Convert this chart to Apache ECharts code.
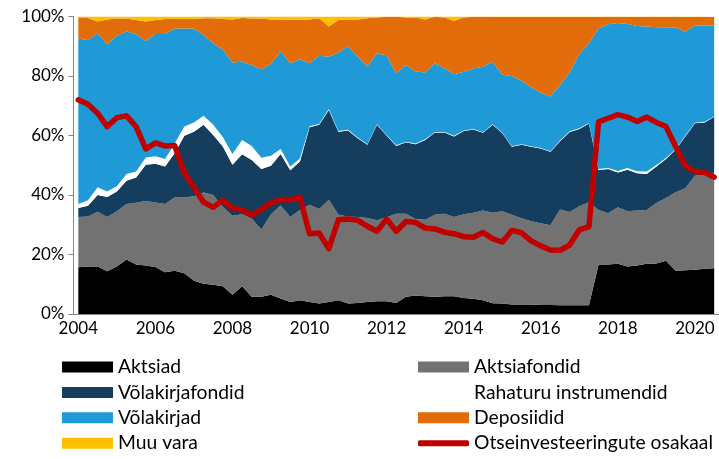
<!DOCTYPE html>
<html>
<head>
<meta charset="utf-8">
<script src="https://cdn.jsdelivr.net/npm/echarts@6/dist/echarts.min.js"></script>
<style>html,body{margin:0;padding:0;background:#fff}#c{width:719px;height:459px}</style>
</head>
<body>
<div id="c"></div>
<script>
// quarterly categories 2004Q1 .. 2020Q3
const categories = [];
for (let y = 2004; y <= 2020; y++) for (let q = 1; q <= 4; q++) if (categories.length < 67) categories.push(y + 'Q' + q);

const aktsiad = [15.7,16.0,16.0,14.4,16.0,18.3,16.6,16.3,15.8,14.0,
 14.5,13.7,11.2,10.2,9.8,9.3,6.5,9.3,5.8,5.8,
 6.5,5.2,4.0,4.6,4.0,3.5,4.0,4.6,3.5,3.7,
 4.0,4.3,4.3,3.7,5.8,6.2,6.0,5.8,6.0,6.0,
 5.4,5.1,4.6,3.6,3.5,3.2,3.2,3.2,3.0,3.0,
 2.9,2.9,2.9,2.9,16.6,16.6,16.9,16.0,16.3,16.9,
 17.0,17.9,14.5,14.7,14.9,15.2,15.4];
const aktsiafondid = [16.9,16.8,18.4,18.2,18.5,18.7,20.8,21.7,21.7,23.0,
 24.7,25.5,28.4,30.6,30.2,26.7,26.5,24.2,26.2,22.6,
 27.0,31.3,28.6,30.4,32.7,31.8,34.4,28.8,29.3,28.9,
 28.3,27.2,28.2,30.0,27.9,25.7,25.7,27.6,27.7,26.6,
 28.1,28.9,30.2,30.4,31.0,30.2,29.0,28.0,27.5,26.8,
 32.2,31.4,33.3,34.7,18.4,17.3,19.0,18.5,18.5,18.1,
 20.3,21.1,26.4,27.6,31.6,31.8,32.1];
const volakirjafondid = [3.0,3.6,5.6,6.7,6.7,7.8,8.5,12.2,13.0,12.6,
 14.8,20.7,21.7,22.8,20.2,20.3,17.2,20.2,19.8,20.3,
 16.3,17.3,15.7,16.3,26.1,28.3,30.2,27.9,28.9,26.5,
 24.6,32.1,27.5,22.8,24.0,25.2,26.8,27.6,27.3,27.1,
 28.0,28.0,26.1,29.6,26.3,22.8,24.7,25.0,25.1,24.7,
 23.0,26.9,26.0,26.4,13.4,14.8,11.7,14.0,12.5,12.1,
 12.3,13.1,14.3,17.4,17.6,17.4,18.7];
const rahaturu = [1.4,1.8,2.6,1.9,1.7,2.3,2.0,2.4,2.5,2.5,
 3.3,3.1,3.1,3.0,3.4,3.2,3.6,4.8,4.7,3.8,
 3.4,1.7,1.3,1.0,0.3,0.3,0.3,0.2,0.2,0.2,
 0.2,0.2,0.2,0.2,0.2,0.2,0.2,0.2,0.2,0.2,
 0.2,0.2,0.2,0.2,0.2,0.2,0.2,0.2,0.2,0.2,
 0.2,0.2,0.2,0.2,0.3,0.4,0.5,0.6,0.7,0.8,
 0.5,0.3,0.2,0.2,0.2,0.2,0.2];
const volakirjad = [55.7,53.8,51.8,49.5,50.6,47.9,46.2,39.2,41.1,42.0,
 38.7,33.0,31.6,27.2,27.4,29.3,30.7,26.3,27.2,29.8,
 30.8,32.7,34.7,33.3,21.2,22.9,17.6,26.4,28.2,27.2,
 26.1,23.8,26.8,24.2,25.8,24.2,22.5,23.1,21.4,20.7,
 19.7,20.3,22.0,21.0,19.5,23.5,21.4,19.8,18.6,18.4,
 18.7,19.8,25.1,26.7,47.3,48.3,49.7,48.4,48.8,48.7,
 46.3,44.0,40.9,35.0,32.7,32.4,30.6];
const deposiidid = [6.8,7.5,3.9,8.3,5.8,4.3,4.7,6.5,4.7,5.1,
 3.2,3.2,3.2,5.6,8.4,10.4,14.5,14.7,15.6,17.0,
 15.0,10.8,14.6,13.3,14.7,12.6,10.1,10.9,8.9,12.5,
 16.2,12.1,12.9,19.0,16.0,18.2,17.8,15.6,17.1,18.0,
 18.3,17.4,16.8,15.0,19.3,19.9,21.3,23.6,25.4,26.7,
 22.8,18.6,12.3,8.9,3.8,2.4,2.0,2.3,3.0,3.2,
 3.4,3.4,3.5,4.9,2.8,2.8,2.8];
const muuVara = [0.5,0.5,1.7,1.0,0.7,0.7,1.2,1.7,1.2,0.8,
 0.8,0.8,0.8,0.6,0.6,0.8,1.0,0.5,0.7,0.7,
 1.0,1.0,1.1,1.1,1.0,0.6,3.4,1.2,1.0,1.0,
 0.6,0.3,0.1,0.1,0.3,0.3,1.0,0.1,0.3,1.4,
 0.3,0.1,0.1,0.2,0.2,0.2,0.2,0.2,0.2,0.2,
 0.2,0.2,0.2,0.2,0.2,0.2,0.2,0.2,0.2,0.2,
 0.2,0.2,0.2,0.2,0.2,0.2,0.2];
const otseinvesteeringud = [72.0,70.5,67.5,63.0,66.0,66.6,63.0,55.5,57.5,56.5,
 56.6,47.4,42.6,37.6,35.9,38.2,35.6,35.0,33.2,35.2,
 37.3,38.5,38.4,39.3,27.0,27.2,22.0,31.7,31.9,31.5,
 29.5,27.8,31.9,27.8,31.1,30.8,28.9,28.6,27.5,27.0,
 26.0,25.8,27.4,25.3,24.2,28.1,27.3,24.6,22.9,21.5,
 21.4,23.2,28.3,29.4,64.6,65.8,67.0,66.2,64.7,66.2,
 64.4,63.0,56.3,49.8,47.9,47.6,46.0];
const yTicks = [0, 20, 40, 60, 80, 100];

const FONT = 'Lato';
const areaDefs = [
  ['Aktsiad', aktsiad, '#000000'],
  ['Aktsiafondid', aktsiafondid, '#727272'],
  ['Võlakirjafondid', volakirjafondid, '#153E5E'],
  ['Rahaturu instrumendid', rahaturu, '#FFFFFF'],
  ['Võlakirjad', volakirjad, '#1F9AD6'],
  ['Deposiidid', deposiidid, '#E36C0A'],
  ['Muu vara', muuVara, '#FFC000']
];
const series = areaDefs.map(([name, data, color]) => ({
  name, type: 'line', stack: 'total', data, color,
  showSymbol: false, symbol: 'none',
  lineStyle: { width: 0, color },
  areaStyle: { color, opacity: 1 },
  itemStyle: { color },
  emphasis: { disabled: true }
}));
series.push({
  name: 'Otseinvesteeringute osakaal', type: 'line', data: otseinvesteeringud,
  showSymbol: false, symbol: 'none', z: 5, color: '#C00000',
  lineStyle: { width: 5.5, color: '#C00000', cap: 'round', join: 'round' },
  itemStyle: { color: '#C00000' },
  emphasis: { disabled: true }
});

const legendText = { fontFamily: FONT, fontSize: 19.3, color: '#000', lineHeight: 25 };
const legendBase = { orient: 'vertical', padding: 0, itemWidth: 51, itemHeight: 11, itemGap: 0.4, textStyle: legendText, selectedMode: false, icon: 'rect' };

const chart = echarts.init(document.getElementById('c'), null, { renderer: 'canvas' });
chart.setOption({
  animation: false,
  grid: { left: 73.5, right: 0, top: 16.5, bottom: 145 },
  xAxis: {
    type: 'category', data: categories, boundaryGap: true,
    axisLine: { lineStyle: { color: '#878787', width: 1 } },
    axisTick: { interval: 3, length: 5, lineStyle: { color: '#878787' } },
    axisLabel: { interval: 7, margin: 6, fontFamily: FONT, fontSize: 17, color: '#000',
      formatter: v => v.slice(0, 4) },
    splitLine: { show: false }
  },
  yAxis: {
    type: 'value', min: yTicks[0], max: yTicks[yTicks.length - 1], interval: 20,
    axisLine: { show: true, lineStyle: { color: '#878787', width: 1 } },
    axisTick: { show: true, length: 5, lineStyle: { color: '#878787' } },
    axisLabel: { margin: 9, fontFamily: FONT, fontSize: 17, color: '#000', formatter: '{value}%' },
    splitLine: { show: false }
  },
  legend: [
    Object.assign({}, legendBase, { left: 62, top: 354.5, height: 104, data: ['Aktsiad', 'Võlakirjafondid', 'Võlakirjad', 'Muu vara'] }),
    Object.assign({}, legendBase, { left: 418, top: 354.5, height: 80, data: ['Aktsiafondid', 'Rahaturu instrumendid', 'Deposiidid'] }),
    Object.assign({}, legendBase, { left: 418, top: 430.7, itemHeight: 6, icon: 'roundRect', data: ['Otseinvesteeringute osakaal'] })
  ],
  series
});
</script>
</body>
</html>
